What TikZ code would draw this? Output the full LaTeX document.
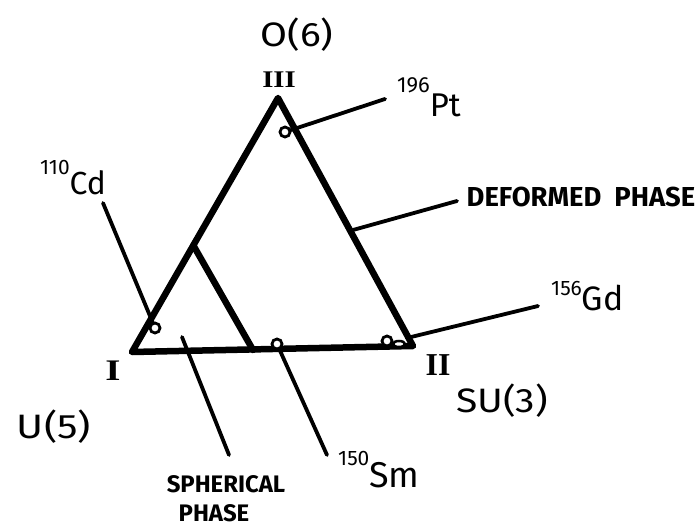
\documentclass[tikz,border=0pt]{standalone}
\usepackage{fontspec}
\usetikzlibrary{calc}
\setmainfont{Fira Sans}
\newfontfamily\romfont{Liberation Serif}
\newcommand{\isonuc}[4]{\raisebox{#3}{\fontsize{#4}{#4}\selectfont #1}#2}
\begin{document}
\begin{tikzpicture}[x=1bp,y=-1bp,
  tri/.style={line width=6.5bp,line join=round,line cap=round},
  ptr/.style={line width=3.8bp,line cap=round},
  dot/.style={circle,draw,line width=2.8bp,fill=white,minimum size=10bp,inner sep=0pt},
  big/.style={font=\fontsize{34}{34}\selectfont,inner sep=0pt,xscale=1.15},
  roman/.style={font=\romfont\bfseries\fontsize{24}{24}\selectfont,inner sep=0pt},
  caps/.style={font=\bfseries\fontsize{24}{24}\selectfont,inner sep=0pt},
  iso/.style={inner sep=0pt,anchor=base west}]
\path[use as bounding box] (0,0) rectangle (699,528);
% triangle vertices
\coordinate (vI) at (132,352);
\coordinate (vII) at (413,346);
\coordinate (vIII) at (278,98);
\draw[tri] (vI) -- (vIII) -- (vII) -- cycle;
% phase boundary
\coordinate (bTop) at ($(vI)!0.42!(vIII)$);
\coordinate (bBot) at (253,350);
\draw[tri] (bTop) -- (bBot);
% vertex labels
\node[roman,xscale=1.2] (nIII) at (279,80) {III};
\node[roman,font=\romfont\bfseries\fontsize{30}{30}\selectfont,xscale=1.3] (nI) at (113,371) {I};
\node[roman,font=\romfont\bfseries\fontsize{32}{32}\selectfont] (nII) at (438,365) {II};
\node[big] (o6) at (297,35) {O(6)};
\node[big,xscale=1.05] (u5) at (54,427) {U(5)};
\node[big] (su3) at (502,401) {SU(3)};
% nuclei circles
\node[dot] (cPt) at (285,132) {};
\node[dot] (cCd) at (155,328) {};
\node[dot] (cSm) at (277,344) {};
\node[dot] (cGd) at (387,341) {};
\draw[line width=2.5bp,fill=white] (399,344) ellipse (6bp and 3bp);
% pointer ends
\coordinate (pPt) at (385,99);
\coordinate (pCd) at (103,203);
\coordinate (pSm) at (327,455);
\coordinate (gdFoot) at (407,338);
\coordinate (pGd) at (538,306);
\coordinate (defA) at (353,230);
\coordinate (defB) at (457,201);
\coordinate (sphA) at (182,337);
\coordinate (sphB) at (229,455);
\draw[ptr] (cPt) -- (pPt);
\draw[ptr] (cCd) -- (pCd);
\draw[ptr] (cSm) -- (pSm);
\draw[ptr] (gdFoot) -- (pGd);
\draw[ptr] (defA) -- (defB);
\draw[ptr] (sphA) -- (sphB);
% labels
\node[iso,font=\fontsize{33}{33}\selectfont] (lPt) at (397,117) {\isonuc{196}{Pt}{24bp}{22}};
\node[iso,font=\fontsize{32}{32}\selectfont] (lCd) at (40,195) {\isonuc{110}{Cd}{20bp}{21}};
\node[iso,font=\fontsize{34}{34}\selectfont] (lGd) at (551,310) {\isonuc{156}{Gd}{15bp}{21}};
\node[iso,font=\fontsize{36}{36}\selectfont] (lSm) at (338,487) {\isonuc{150}{Sm}{22bp}{21}};
\node[caps,font=\bfseries\fontsize{27.5}{27.5}\selectfont] (lDef) at (581,197) {DEFORMED\ \ PHASE};
\node[caps] (lSph1) at (226,484) {SPHERICAL};
\node[caps] (lSph2) at (214,513) {PHASE};
\end{tikzpicture}
\end{document}
